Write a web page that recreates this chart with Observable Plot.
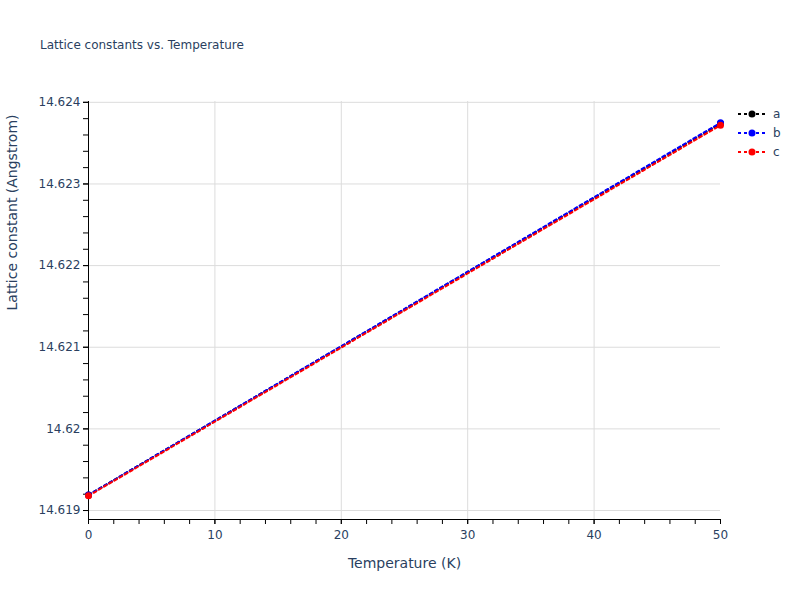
<!DOCTYPE html>
<html>
<head>
<meta charset="utf-8">
<script src="https://cdn.jsdelivr.net/npm/d3@7"></script>
<script src="https://cdn.jsdelivr.net/npm/@observablehq/plot@0.6"></script>
<style>
  html, body { margin: 0; padding: 0; background: white; }
  #wrap { position: relative; width: 800px; height: 600px; font-family: "DejaVu Sans", Verdana, sans-serif; color: #2a3f5f; }
  #title { position: absolute; left: 40px; top: 38px; font-size: 12px; white-space: nowrap; }
  #legend { position: absolute; left: 736px; top: 104px; }
</style>
</head>
<body>
<div id="wrap">
  <div id="chart"></div>
  <div id="title">Lattice constants vs. Temperature</div>
  <svg id="legend" width="64" height="60"></svg>
</div>
<script>
const temperature = [0, 50];
const seriesNames = ["a", "b", "c"];
const aValues = [14.61919, 14.62374];
const bValues = [14.61919, 14.62375];
const cValues = [14.61918, 14.62372];
const colors = ["black", "blue", "red"];
const yMajorTicks = [14.619, 14.620, 14.621, 14.622, 14.623, 14.624];
const xMajorTicks = [0, 10, 20, 30, 40, 50];

const values = [aValues, bValues, cValues];
const rows = [];
seriesNames.forEach((s, i) => temperature.forEach((t, j) => rows.push({series: s, T: t, v: values[i][j]})));

const yMinor = d3.range(0, 26).map(i => +(14.619 + i * 0.0002).toFixed(4)).filter(v => v <= 14.624);
const xMinor = d3.range(0, 51, 2);

const chart = Plot.plot({
  width: 800,
  height: 600,
  marginLeft: 88,
  marginRight: 80,
  marginTop: 101,
  marginBottom: 81,
  x: {domain: [0, 50]},
  y: {domain: [14.61889, 14.62401]},
  color: {domain: seriesNames, range: colors},
  style: {fontFamily: "'DejaVu Sans', Verdana, sans-serif", fontSize: "12px", color: "#2a3f5f", background: "white"},
  marks: [
    Plot.gridX([10, 20, 30, 40], {stroke: "#dcdcdc", strokeOpacity: 1}),
    Plot.gridY(yMajorTicks, {stroke: "#dcdcdc", strokeOpacity: 1}),
    Plot.axisY(yMinor, {tickSize: 5, stroke: "black", text: null, label: null}),
    Plot.axisY(yMajorTicks, {tickSize: 5, tickPadding: 3, stroke: "black", fill: "#2a3f5f", tickFormat: d => String(+d.toFixed(3)), label: null}),
    Plot.axisX(xMinor, {tickSize: 5, stroke: "black", text: null, label: null}),
    Plot.axisX(xMajorTicks, {tickSize: 5, tickPadding: 6, stroke: "black", fill: "#2a3f5f", label: null}),
    Plot.ruleX([0], {stroke: "black"}),
    Plot.ruleY([14.61889], {stroke: "black"}),
    Plot.line(rows, {x: "T", y: "v", stroke: "series", z: "series", strokeWidth: 2, strokeDasharray: "3,3"}),
    Plot.dot(rows, {x: "T", y: "v", fill: "series", r: 3.5}),
    Plot.text(["Lattice constant (Angstrom)"], {frameAnchor: "left", rotate: -90, dx: -76, fontSize: 14, fill: "#2a3f5f", text: d => d}),
    Plot.text(["Temperature (K)"], {frameAnchor: "bottom", dy: 48, fontSize: 14, fill: "#2a3f5f", text: d => d})
  ]
});
document.getElementById("chart").appendChild(chart);

const leg = d3.select("#legend");
seriesNames.forEach((s, i) => {
  const g = leg.append("g").attr("transform", `translate(0,${10 + i * 19})`);
  g.append("line").attr("x1", 2).attr("x2", 30).attr("y1", 0).attr("y2", 0)
    .attr("stroke", colors[i]).attr("stroke-width", 2).attr("stroke-dasharray", "3,3");
  g.append("circle").attr("cx", 16).attr("cy", 0).attr("r", 3.5).attr("fill", colors[i]);
  g.append("text").attr("x", 37).attr("y", 0).attr("dy", "0.35em")
    .attr("font-family", "'DejaVu Sans', Verdana, sans-serif").attr("font-size", 12).attr("fill", "#2a3f5f").text(s);
});
</script>
</body>
</html>
